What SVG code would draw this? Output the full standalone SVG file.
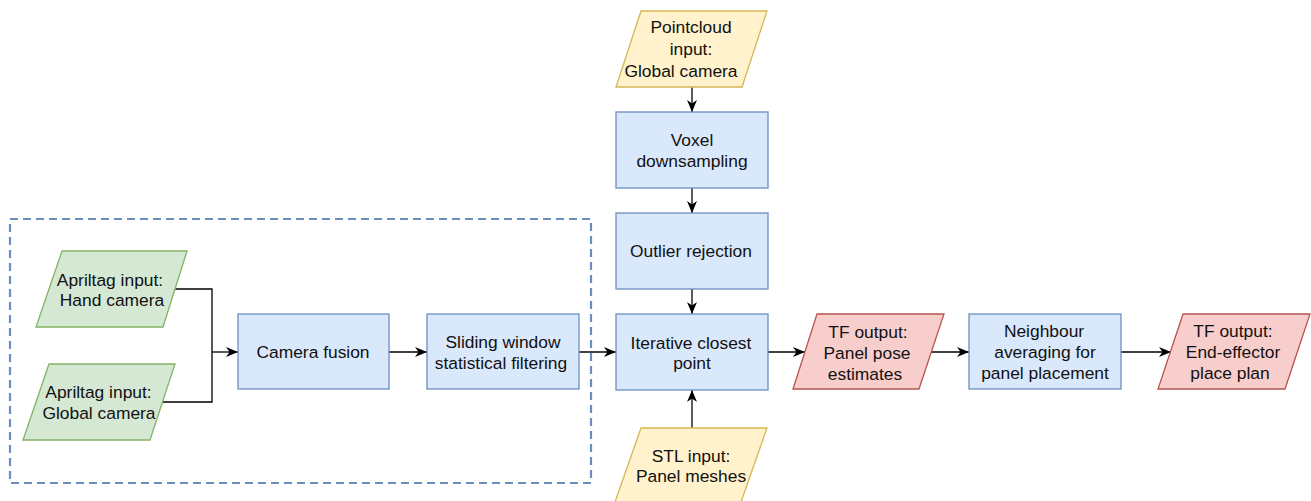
<svg xmlns="http://www.w3.org/2000/svg" width="1311" height="501" viewBox="0 0 1311 501">
<defs>
<marker id="arr" markerUnits="userSpaceOnUse" markerWidth="13" markerHeight="11" refX="12" refY="5" orient="auto">
<path d="M0,0 L12,5 L0,10 L3.5,5 z" fill="#000"/>
</marker>
<style>
.blue{fill:#dae8fc;stroke:#6c8ebf;stroke-width:1.3}
.green{fill:#d5e8d4;stroke:#82b366;stroke-width:1.3}
.yellow{fill:#fff2cc;stroke:#d6b656;stroke-width:1.3}
.red{fill:#f8cecc;stroke:#b85450;stroke-width:1.3}
.group{fill:none;stroke:#6c8ebf;stroke-width:2.2;stroke-dasharray:8 5}
text{font-family:"Liberation Sans",Arial,sans-serif;font-size:17.4px;fill:#111;text-anchor:middle}
.edge{fill:none;stroke:#000;stroke-width:1.3;marker-end:url(#arr)}
.line{fill:none;stroke:#000;stroke-width:1.3}
</style>
</defs>
<rect width="1311" height="501" fill="#fff"/>
<g id="group-box">
<rect class="group" x="10" y="219" width="581" height="264"/>
</g>
<g id="connectors">
<polyline class="line" points="175,289 212,289 212,352"/>
<polyline class="line" points="162,402 212,402 212,352"/>
<line class="edge" x1="212" y1="352" x2="238" y2="352"/>
<line class="edge" x1="389" y1="352" x2="427" y2="352"/>
<line class="edge" x1="579" y1="352" x2="616" y2="352"/>
<line class="edge" x1="692" y1="87" x2="692" y2="112"/>
<line class="edge" x1="692" y1="188" x2="692" y2="213"/>
<line class="edge" x1="692" y1="289" x2="692" y2="314"/>
<line class="edge" x1="692" y1="428" x2="692" y2="390"/>
<line class="edge" x1="768" y1="352" x2="805" y2="352"/>
<line class="edge" x1="931" y1="352" x2="969" y2="352"/>
<line class="edge" x1="1121" y1="352" x2="1171" y2="352"/>
</g>
<g id="apriltag-hand">
<polygon class="green" points="62,251 187,251 163,327 36,327"/>
<text x="110" y="286">Apriltag input:</text>
<text x="112" y="306">Hand camera</text>
</g>
<g id="apriltag-global">
<polygon class="green" points="49,364 175,364 150,440 23,440"/>
<text x="98.5" y="398">Apriltag input:</text>
<text x="99" y="419">Global camera</text>
</g>
<g id="camera-fusion">
<rect class="blue" x="238" y="314" width="151" height="75"/>
<text x="313" y="358">Camera fusion</text>
</g>
<g id="sliding-window">
<rect class="blue" x="427" y="314" width="152" height="75"/>
<text x="503" y="348">Sliding window</text>
<text x="501" y="369">statistical filtering</text>
</g>
<g id="pointcloud-input">
<polygon class="yellow" points="641,11 767,11 742,87 616,87"/>
<text x="691" y="33">Pointcloud</text>
<text x="691" y="55">input:</text>
<text x="681" y="77">Global camera</text>
</g>
<g id="voxel">
<rect class="blue" x="616" y="112" width="152" height="76"/>
<text x="692" y="146">Voxel</text>
<text x="692" y="167">downsampling</text>
</g>
<g id="outlier">
<rect class="blue" x="616" y="213" width="152" height="76"/>
<text x="691" y="257">Outlier rejection</text>
</g>
<g id="icp">
<rect class="blue" x="616" y="314" width="152" height="76"/>
<text x="691" y="349">Iterative closest</text>
<text x="692" y="369">point</text>
</g>
<g id="stl-input">
<polygon class="yellow" points="641,428 767,428 741,502 615,502"/>
<text x="691" y="462">STL input:</text>
<text x="691" y="482">Panel meshes</text>
</g>
<g id="tf-pose">
<polygon class="red" points="817,314 944,314 919,389 793,389"/>
<text x="868" y="338">TF output:</text>
<text x="867" y="359">Panel pose</text>
<text x="865" y="380">estimates</text>
</g>
<g id="neighbour">
<rect class="blue" x="969" y="314" width="152" height="75"/>
<text x="1044" y="337">Neighbour</text>
<text x="1045" y="358">averaging for</text>
<text x="1045" y="379">panel placement</text>
</g>
<g id="tf-plan">
<polygon class="red" points="1183,314 1310,314 1285,389 1158,389"/>
<text x="1233" y="337">TF output:</text>
<text x="1233" y="358">End-effector</text>
<text x="1230" y="379">place plan</text>
</g>
</svg>
